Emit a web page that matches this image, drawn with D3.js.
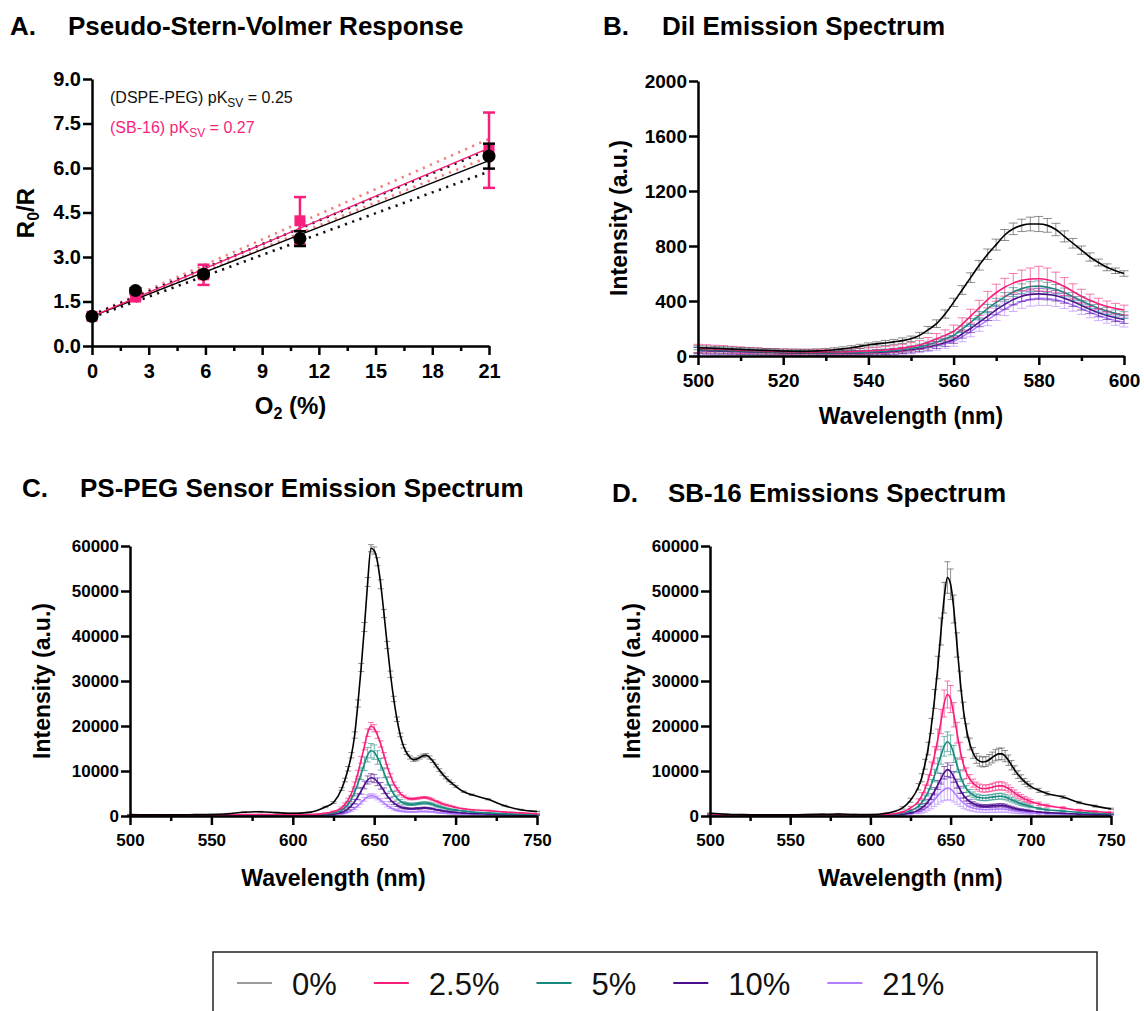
<!DOCTYPE html>
<html>
<head>
<meta charset="utf-8">
<script src="https://cdn.jsdelivr.net/npm/d3@7"></script>
<style>
  body { margin: 0; background: #fff; }
  text { font-family: "Liberation Sans", Arial, sans-serif; }
</style>
</head>
<body>
<svg id="fig" width="1144" height="1011"></svg>
<script>
// ---- series shared by panels B, C, D ----
const SERIES = ["0%", "2.5%", "5%", "10%", "21%"];
const COLORS = ["#000000", "#f71f7b", "#17887f", "#4b0f8d", "#b27dff"];
const LEGEND_COLORS = ["#9b9b9b", "#f71f7b", "#17887f", "#4b0f8d", "#b27dff"];

// ---- panel A: pseudo-Stern-Volmer ----
const O2 = [0, 2.3, 5.9, 11, 21];
const DSPE_RATIO = [1.0, 1.87, 2.42, 3.62, 6.4];
const DSPE_ERR = [0.05, 0.08, 0.1, 0.25, 0.42];
const SB16_RATIO = [1.0, 1.65, 2.4, 4.22, 6.6];
const SB16_ERR = [0.05, 0.08, 0.34, 0.8, 1.27];
const FIT_X = [0, 21];
const DSPE_FIT = [1.0, 6.25];
const DSPE_LO = [0.96, 5.88];
const DSPE_HI = [1.04, 6.62];
const SB16_FIT = [1.0, 6.67];
const SB16_LO = [0.98, 6.38];
const SB16_HI = [1.05, 6.98];
const A_XTICKS = [0, 3, 6, 9, 12, 15, 18, 21];
const A_XMINOR = [1.5, 4.5, 7.5, 10.5, 13.5, 16.5, 19.5];
const A_YTICKS = [0, 1.5, 3, 4.5, 6, 7.5, 9];

// ---- panel B: DiI emission ----
const WL_B = [500,502,504,506,508,510,512,514,516,518,520,522,524,526,528,530,532,534,536,538,540,542,544,546,548,550,552,554,556,558,560,562,564,566,568,570,572,574,576,578,580,582,584,586,588,590,592,594,596,598,600];
const B_0 = [60,58,55,53,50,47,45,42,40,38,36,35,34,35,37,40,45,52,60,70,80,88,95,103,112,125,150,190,235,305,390,480,570,660,740,810,880,925,950,960,960,950,920,870,820,770,720,680,645,620,600];
const B_25 = [55,52,50,48,45,42,40,38,35,33,31,30,29,28,28,28,29,30,32,34,37,40,44,50,57,67,80,100,125,150,180,230,290,350,410,460,500,530,550,560,562,555,535,505,470,435,405,380,360,345,335];
const B_5 = [45,43,41,40,38,36,34,32,30,28,26,25,24,23,22,22,22,23,24,26,28,31,35,40,46,55,66,82,100,125,150,195,245,295,345,390,430,465,490,505,508,500,485,462,432,402,372,347,327,310,297];
const B_10 = [40,38,36,35,33,31,30,28,26,25,23,22,21,20,19,19,19,20,21,22,24,26,29,33,38,45,54,67,80,98,120,160,200,245,290,335,375,410,435,448,452,448,438,420,396,368,340,315,295,278,265];
const B_21 = [38,36,34,33,31,29,28,26,24,23,21,20,19,18,17,17,17,18,19,20,22,24,27,30,35,41,49,60,72,88,105,140,178,220,262,303,340,372,397,412,420,418,408,392,370,345,318,295,275,258,245];
const B_0_ERR = [15,15,15,15,15,15,15,15,15,15,15,15,15,15,15,15,15,15,15,15,15,15,18,18,20,20,22,25,28,30,30,32,35,35,38,40,40,42,45,50,55,50,45,40,35,30,30,25,25,20,20];
const B_25_ERR = [30,30,28,28,25,25,22,22,20,20,20,20,20,20,20,20,20,20,20,22,22,22,25,25,28,30,32,35,38,40,45,48,50,55,60,62,65,70,75,80,90,85,75,65,55,50,45,40,40,38,35];
const B_5_ERR = [20,20,20,20,18,18,18,16,16,16,15,15,15,15,15,15,15,15,15,15,15,15,16,16,18,18,20,20,22,22,25,25,28,28,30,30,32,32,35,35,38,36,35,32,30,30,28,28,26,25,25];
const B_10_ERR = [22,22,22,20,20,20,18,18,18,18,16,16,16,16,16,16,16,16,16,16,16,18,18,20,20,22,22,25,25,28,28,30,30,32,32,35,35,38,38,40,40,40,38,36,35,34,32,30,30,28,28];
const B_21_ERR = [25,25,25,22,22,22,20,20,20,20,18,18,18,18,18,18,18,18,18,18,18,20,20,22,22,25,25,28,30,32,34,36,38,40,42,44,46,48,50,50,52,50,48,46,44,42,40,38,36,35,34];
const B_XTICKS = [500, 520, 540, 560, 580, 600];
const B_XMINOR = [510, 530, 550, 570, 590];
const B_YTICKS = [0, 400, 800, 1200, 1600, 2000];

// ---- panels C and D: sensor emission ----
const WL_CD = [500,510,520,530,540,550,560,570,580,590,600,610,620,625,630,632,634,636,638,640,642,644,646,648,650,652,654,656,658,660,662,664,666,668,670,672,674,676,678,680,682,684,686,688,690,692,694,696,698,700,705,710,720,730,740,750];
const C_0 = [300,250,250,250,300,350,500,850,950,750,600,800,2000,3000,6000,8000,10500,13500,18000,25000,33000,42000,52000,59500,59000,56500,51500,45000,38000,31500,26000,21500,18000,15500,14000,13000,12500,12600,13000,13400,13500,13000,12200,11200,10200,9300,8500,7800,7200,6600,5400,4700,3700,2300,1400,1000];
const C_25 = [200,200,150,150,150,150,200,300,350,300,250,300,600,1000,1800,2600,3600,5000,7000,9500,12500,15500,18500,20000,19500,18000,16000,13500,11000,9000,7200,6000,5000,4400,4000,3800,3800,3900,4000,4100,4100,3900,3600,3300,3000,2700,2500,2300,2100,1900,1600,1400,1200,900,700,500];
const C_5 = [150,150,100,100,100,100,150,200,250,200,200,250,450,700,1300,1900,2700,3800,5300,7200,9400,11600,13600,14500,14200,13000,11500,9600,7800,6200,4900,4000,3300,2900,2700,2600,2600,2700,2800,2900,2900,2800,2600,2300,2100,1900,1700,1500,1400,1300,1100,900,700,500,400,300];
const C_10 = [100,100,80,80,80,80,100,150,180,150,150,180,300,450,800,1150,1650,2300,3200,4300,5600,6900,8000,8500,8300,7600,6700,5600,4500,3600,2900,2400,2000,1800,1700,1600,1600,1700,1700,1800,1800,1700,1600,1400,1300,1150,1050,950,850,800,650,550,450,300,250,200];
const C_21 = [80,80,60,60,60,60,80,100,120,100,100,100,150,250,450,650,900,1250,1700,2300,3000,3700,4300,4500,4400,4000,3500,2900,2300,1900,1500,1250,1100,1000,950,900,900,950,1000,1000,1000,950,900,800,700,650,600,550,500,450,400,350,300,200,150,100];
const C_0_ERR = [50,50,50,50,50,50,50,80,80,60,50,80,150,200,300,400,500,600,700,800,900,1000,1000,800,800,900,1000,900,800,700,600,500,400,400,350,350,350,350,350,350,350,350,300,300,300,250,250,200,200,200,150,150,120,100,80,60];
const C_25_ERR = [30,30,30,30,30,30,30,40,40,40,30,40,80,120,200,280,350,450,550,650,750,800,850,800,800,750,700,600,500,400,350,300,250,220,200,200,200,200,200,200,200,200,180,160,150,140,130,120,110,100,90,80,70,60,50,40];
const C_5_ERR = [30,30,30,30,30,30,30,40,40,40,40,50,100,150,250,350,500,650,850,1100,1300,1500,1600,1600,1600,1500,1300,1100,900,700,550,450,350,300,280,260,260,260,260,260,260,250,240,220,200,180,160,150,140,130,110,100,80,60,50,40];
const C_10_ERR = [20,20,20,20,20,20,20,30,30,30,30,30,60,90,150,220,300,400,500,650,750,850,900,900,900,850,750,650,550,450,350,280,230,200,180,170,170,170,170,170,170,160,150,140,130,120,110,100,90,80,70,60,50,40,30,30];
const C_21_ERR = [20,20,20,20,20,20,20,20,20,20,20,20,40,60,100,140,180,230,280,330,380,420,450,450,450,420,380,330,280,230,190,160,140,120,110,100,100,100,100,100,100,100,90,80,80,70,70,60,60,50,50,40,40,30,30,20];

const D_0 = [600,400,300,250,250,250,300,400,450,350,300,600,1800,3500,6500,8500,11500,15000,20000,26000,33000,41000,48500,53000,51500,46000,38000,30000,23500,19000,16000,14000,12800,12200,12000,12100,12500,13000,13500,13800,13800,13300,12400,11300,10200,9200,8400,7700,7100,6600,5700,5000,4200,3000,2200,1600];
const D_25 = [400,250,150,150,150,150,200,250,300,250,200,350,900,1800,3300,4500,6000,8000,10500,13500,17000,21000,25000,27000,26000,22500,18500,14500,11500,9500,8200,7300,6700,6300,6100,6100,6200,6400,6600,6700,6700,6500,6100,5600,5100,4600,4200,3800,3500,3200,2700,2300,1800,1300,1000,800];
const D_5 = [300,200,120,120,120,120,150,200,220,180,150,250,600,1200,2200,3000,4000,5300,7000,9000,11200,13500,15500,16500,15800,13800,11300,9000,7200,6000,5200,4700,4300,4100,4000,4000,4100,4200,4300,4400,4400,4200,3900,3600,3300,3000,2700,2500,2300,2100,1700,1400,1100,800,600,500];
const D_10 = [250,150,100,100,100,100,120,150,180,150,120,180,350,700,1300,1800,2400,3200,4300,5500,6900,8300,9600,10300,9900,8700,7200,5800,4600,3800,3200,2800,2500,2300,2200,2200,2200,2300,2300,2400,2400,2300,2100,1900,1700,1500,1400,1300,1200,1100,900,750,600,450,350,300];
const D_21 = [200,120,80,80,80,80,100,120,150,120,100,150,250,450,850,1150,1550,2100,2800,3600,4500,5300,5900,6200,6000,5300,4400,3600,2900,2400,2000,1800,1600,1500,1450,1400,1450,1500,1500,1550,1550,1500,1400,1250,1100,1000,900,850,800,700,600,500,400,300,250,200];
const D_0_ERR = [100,80,60,50,50,50,60,80,80,70,60,100,250,450,700,900,1100,1400,1700,2100,2500,3000,3400,3500,3400,3100,2700,2200,1800,1500,1300,1200,1100,1100,1100,1100,1150,1200,1250,1300,1300,1250,1150,1050,950,850,750,650,600,550,450,400,300,250,200,150];
const D_25_ERR = [60,40,30,30,30,30,30,40,40,40,30,60,150,300,500,700,900,1200,1500,1900,2300,2700,3000,3000,3000,2700,2300,1900,1500,1200,1000,900,850,800,800,800,800,850,900,900,900,850,800,750,700,650,600,550,500,450,400,350,250,200,150,120];
const D_5_ERR = [40,30,20,20,20,20,20,30,30,30,20,40,100,200,350,500,650,850,1100,1400,1700,2000,2200,2200,2200,1900,1600,1300,1000,800,700,650,600,600,600,600,600,600,650,650,650,600,550,500,450,400,350,330,300,280,230,200,150,110,80,60];
const D_10_ERR = [30,20,20,20,20,20,20,20,20,20,20,30,60,120,220,300,400,500,650,800,1000,1200,1400,1500,1400,1200,1000,800,650,500,420,380,350,330,320,320,320,330,330,350,350,330,300,280,250,220,200,180,170,160,130,110,90,70,50,40];
const D_21_ERR = [40,30,20,20,20,20,20,30,30,30,20,40,100,180,350,500,700,900,1200,1500,1900,2200,2500,2600,2500,2200,1800,1500,1200,1000,850,750,700,650,650,650,650,650,700,700,700,650,600,550,500,450,400,380,350,320,280,240,180,140,110,90];
const CD_XTICKS = [500, 550, 600, 650, 700, 750];
const CD_XMINOR = [525, 575, 625, 675, 725];
const CD_YTICKS = [0, 10000, 20000, 30000, 40000, 50000, 60000];

// ---- layout ----
const BOX_A = {left: 92, right: 489, top: 79, bottom: 346};
const BOX_B = {left: 698, right: 1124, top: 81, bottom: 356};
const BOX_C = {left: 130, right: 537, top: 546, bottom: 816};
const BOX_D = {left: 710, right: 1111, top: 546, bottom: 816};

const svg = d3.select("#fig");

function panelTitle(x1, x2, y, letter, label) {
  svg.append("text").attr("x", x1).attr("y", y)
    .attr("font-size", 26).attr("font-weight", "bold").text(letter);
  svg.append("text").attr("x", x2).attr("y", y)
    .attr("font-size", 26).attr("font-weight", "bold").text(label);
}

function styleAxis(g, fs) {
  g.select(".domain").attr("stroke", "#000").attr("stroke-width", 2.5);
  g.selectAll(".tick line").attr("stroke", "#000").attr("stroke-width", 2.5);
  g.selectAll(".tick text")
    .attr("font-family", '"Liberation Sans", Arial, sans-serif')
    .attr("font-size", fs).attr("font-weight", "bold").attr("fill", "#000");
}

function drawAxes(box, x, y, xTicks, xMinor, yTicks, yFmt, fs) {
  const gxm = svg.append("g").attr("transform", "translate(0," + box.bottom + ")")
    .call(d3.axisBottom(x).tickValues(xMinor).tickSize(5).tickFormat(""));
  gxm.select(".domain").remove();
  gxm.selectAll(".tick line").attr("stroke-width", 2.5);

  const gx = svg.append("g").attr("transform", "translate(0," + box.bottom + ")")
    .call(d3.axisBottom(x).tickValues(xTicks).tickSize(9).tickSizeOuter(0).tickPadding(9));
  styleAxis(gx, fs);

  const gy = svg.append("g").attr("transform", "translate(" + box.left + ",0)")
    .call(d3.axisLeft(y).tickValues(yTicks).tickSize(9).tickSizeOuter(0).tickPadding(2).tickFormat(yFmt));
  styleAxis(gy, fs);
}

function yTitle(cx, cy, size, build) {
  const t = svg.append("text")
    .attr("transform", "translate(" + cx + "," + cy + ") rotate(-90)")
    .attr("text-anchor", "middle").attr("font-size", size).attr("font-weight", "bold");
  build(t);
}

function xTitle(cx, y, size, build) {
  const t = svg.append("text").attr("x", cx).attr("y", y)
    .attr("text-anchor", "middle").attr("font-size", size).attr("font-weight", "bold");
  build(t);
}

// ===== Panel A =====
panelTitle(10, 68, 35, "A.", "Pseudo-Stern-Volmer Response");
(function() {
  const x = d3.scaleLinear().domain([0, 21]).range([BOX_A.left, BOX_A.right]);
  const y = d3.scaleLinear().domain([0, 9]).range([BOX_A.bottom, BOX_A.top]);
  const line = d3.line().x((d, i) => x(FIT_X[i])).y(d => y(d));
  const pink = COLORS[1];

  [[SB16_LO, "#f47c7c"], [SB16_HI, "#f47c7c"], [DSPE_LO, "#111"], [DSPE_HI, "#111"]].forEach(([vals, c]) => {
    svg.append("path").datum(vals).attr("d", line)
      .attr("fill", "none").attr("stroke", c).attr("stroke-width", 2.6)
      .attr("stroke-dasharray", "2.2,5.5");
  });
  svg.append("path").datum(DSPE_FIT).attr("d", line)
    .attr("fill", "none").attr("stroke", "#000").attr("stroke-width", 1.5);
  svg.append("path").datum(SB16_FIT).attr("d", line)
    .attr("fill", "none").attr("stroke", pink).attr("stroke-width", 1.5);

  function errBars(vals, errs, col) {
    const g = svg.append("g").attr("stroke", col).attr("stroke-width", 2.5);
    O2.forEach((o, i) => {
      const cx = x(o), lo = y(vals[i] - errs[i]), hi = y(vals[i] + errs[i]);
      g.append("line").attr("x1", cx).attr("x2", cx).attr("y1", lo).attr("y2", hi);
      g.append("line").attr("x1", cx - 6).attr("x2", cx + 6).attr("y1", lo).attr("y2", lo);
      g.append("line").attr("x1", cx - 6).attr("x2", cx + 6).attr("y1", hi).attr("y2", hi);
    });
  }
  errBars(SB16_RATIO, SB16_ERR, pink);
  svg.append("g").selectAll("rect").data(SB16_RATIO).join("rect")
    .attr("x", (d, i) => x(O2[i]) - 5.5).attr("y", d => y(d) - 5.5)
    .attr("width", 11).attr("height", 11).attr("fill", pink);
  errBars(DSPE_RATIO, DSPE_ERR, "#000");
  svg.append("g").selectAll("circle").data(DSPE_RATIO).join("circle")
    .attr("cx", (d, i) => x(O2[i])).attr("cy", d => y(d)).attr("r", 6.5).attr("fill", "#000");

  drawAxes(BOX_A, x, y, A_XTICKS, A_XMINOR, A_YTICKS, d3.format(".1f"), 20);

  const a1 = svg.append("text").attr("x", 110).attr("y", 103).attr("font-size", 16).attr("fill", "#111");
  a1.append("tspan").text("(DSPE-PEG) pK");
  a1.append("tspan").attr("font-size", 12).attr("dy", 4).text("SV");
  a1.append("tspan").attr("dy", -4).text(" = 0.25");
  const a2 = svg.append("text").attr("x", 110).attr("y", 133).attr("font-size", 16).attr("fill", pink);
  a2.append("tspan").text("(SB-16) pK");
  a2.append("tspan").attr("font-size", 12).attr("dy", 4).text("SV");
  a2.append("tspan").attr("dy", -4).text(" = 0.27");

  yTitle(34, 213, 24, t => {
    t.append("tspan").text("R");
    t.append("tspan").attr("font-size", 16).attr("dy", 5).text("0");
    t.append("tspan").attr("dy", -5).text("/R");
  });
  xTitle((BOX_A.left + BOX_A.right) / 2, 414, 24, t => {
    t.append("tspan").text("O");
    t.append("tspan").attr("font-size", 16).attr("dy", 5).text("2");
    t.append("tspan").attr("dy", -5).text(" (%)");
  });
})();

// ===== spectrum panels =====
function spectrum(box, xDomain, yDomain, wl, series, errs, capW, xTicks, xMinor, yTicks, fs) {
  const x = d3.scaleLinear().domain(xDomain).range([box.left, box.right]);
  const y = d3.scaleLinear().domain(yDomain).range([box.bottom, box.top]);
  const line = d3.line().x((d, j) => x(wl[j])).y(d => y(d)).curve(d3.curveMonotoneX);

  [4, 3, 2, 1, 0].forEach(i => {
    const vals = series[i], err = errs[i];
    const ecol = i === 0 ? "#444" : COLORS[i];
    const g = svg.append("g").attr("stroke", ecol).attr("stroke-opacity", 0.6).attr("stroke-width", 1);
    wl.forEach((w, j) => {
      const cx = x(w);
      const lo = y(Math.max(yDomain[0], vals[j] - err[j]));
      const hi = y(vals[j] + err[j]);
      g.append("line").attr("x1", cx).attr("x2", cx).attr("y1", lo).attr("y2", hi);
      g.append("line").attr("x1", cx - capW / 2).attr("x2", cx + capW / 2).attr("y1", lo).attr("y2", lo);
      g.append("line").attr("x1", cx - capW / 2).attr("x2", cx + capW / 2).attr("y1", hi).attr("y2", hi);
    });
    svg.append("path").datum(vals).attr("d", line)
      .attr("fill", "none").attr("stroke", COLORS[i]).attr("stroke-width", 1.6);
  });

  drawAxes(box, x, y, xTicks, xMinor, yTicks, d3.format("d"), fs);
}

panelTitle(603, 662, 35, "B.", "Dil Emission Spectrum");
spectrum(BOX_B, [500, 600], [0, 2000], WL_B,
  [B_0, B_25, B_5, B_10, B_21], [B_0_ERR, B_25_ERR, B_5_ERR, B_10_ERR, B_21_ERR],
  9, B_XTICKS, B_XMINOR, B_YTICKS, 19);
yTitle(627, 218, 23, t => t.text("Intensity (a.u.)"));
xTitle((BOX_B.left + BOX_B.right) / 2, 424, 23, t => t.text("Wavelength (nm)"));

panelTitle(22, 80, 497, "C.", "PS-PEG Sensor Emission Spectrum");
spectrum(BOX_C, [500, 750], [0, 60000], WL_CD,
  [C_0, C_25, C_5, C_10, C_21], [C_0_ERR, C_25_ERR, C_5_ERR, C_10_ERR, C_21_ERR],
  6, CD_XTICKS, CD_XMINOR, CD_YTICKS, 17);
yTitle(50, 681, 23, t => t.text("Intensity (a.u.)"));
xTitle((BOX_C.left + BOX_C.right) / 2, 886, 23, t => t.text("Wavelength (nm)"));

panelTitle(612, 668, 502, "D.", "SB-16 Emissions Spectrum");
spectrum(BOX_D, [500, 750], [0, 60000], WL_CD,
  [D_0, D_25, D_5, D_10, D_21], [D_0_ERR, D_25_ERR, D_5_ERR, D_10_ERR, D_21_ERR],
  6, CD_XTICKS, CD_XMINOR, CD_YTICKS, 17);
yTitle(640, 681, 23, t => t.text("Intensity (a.u.)"));
xTitle((BOX_D.left + BOX_D.right) / 2, 886, 23, t => t.text("Wavelength (nm)"));

// ===== legend =====
svg.append("rect").attr("x", 213).attr("y", 952).attr("width", 884).attr("height", 80)
  .attr("fill", "none").attr("stroke", "#222").attr("stroke-width", 1.5);
let lx = 237;
SERIES.forEach((s, i) => {
  svg.append("line").attr("x1", lx).attr("x2", lx + 35).attr("y1", 983).attr("y2", 983)
    .attr("stroke", LEGEND_COLORS[i]).attr("stroke-width", 2);
  const t = svg.append("text").attr("x", lx + 55).attr("y", 995)
    .attr("font-size", 31).attr("fill", "#111").text(s);
  lx += 55 + t.node().getComputedTextLength() + 37;
});
</script>
</body>
</html>
